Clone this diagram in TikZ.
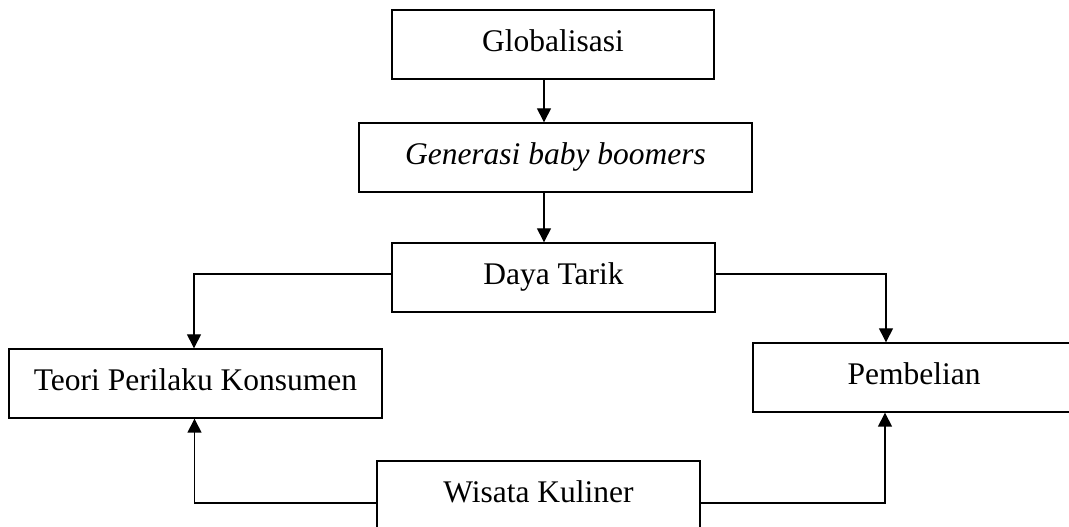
\documentclass[tikz,border=0pt]{standalone}
\usepackage{fontspec}
\setmainfont{Liberation Serif}
\usetikzlibrary{arrows.meta}
\begin{document}
\begin{tikzpicture}[x=1pt,y=1pt,
  box/.style={draw=black, line width=1.4pt, rectangle, inner sep=0pt,
    minimum height=69pt, text height=22pt, text depth=7pt,
    font=\fontsize{31.5}{36}\selectfont},
  arr/.style={line width=1.4pt, -{Triangle[length=14pt,width=14pt]}},
  link/.style={line width=1.4pt}]
\useasboundingbox (0,0) rectangle (1069,527);
\node[box, minimum width=322pt] (gl) at (553,482.5) {Globalisasi};
\node[box, minimum width=393pt] (gen) at (555.5,369.5) {\itshape Generasi baby boomers};
\node[box, minimum width=323pt] (dt) at (553.5,249.5) {Daya Tarik};
\node[box, minimum width=373pt] (tpk) at (195.5,143.5) {Teori Perilaku Konsumen};
\node[box, minimum width=322pt] (pb) at (914,149.5) {Pembelian};
\node[box, minimum width=323pt] (wk) at (538.5,31.5) {Wisata Kuliner};
\draw[arr] ([xshift=-9pt]gl.south) -- ([xshift=-9pt]gl.south |- gen.north);
\draw[arr] ([xshift=-11.5pt]gen.south) -- ([xshift=-11.5pt]gen.south |- dt.north);
\draw[arr] ([yshift=3.5pt]dt.west) -| ([xshift=-1.5pt]tpk.north);
\draw[arr] ([yshift=3.5pt]dt.east) -| ([xshift=-28pt]pb.north);
\draw[arr] ([yshift=-7.5pt]wk.west) -| ([xshift=-1pt]tpk.south);
\draw[arr] ([yshift=-7.5pt]wk.east) -| ([xshift=-29pt]pb.south);
\end{tikzpicture}
\end{document}
